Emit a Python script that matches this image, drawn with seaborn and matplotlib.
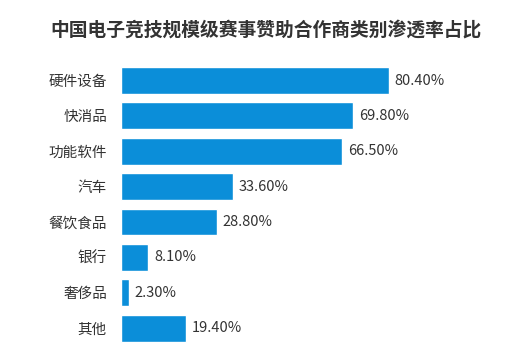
import matplotlib
matplotlib.use("Agg")
import matplotlib.pyplot as plt
import seaborn as sns
import pandas as pd

# Data
categories = ["硬件设备", "快消品", "功能软件", "汽车", "餐饮食品", "银行", "奢侈品", "其他"]
values = [80.4, 69.8, 66.5, 33.6, 28.8, 8.1, 2.3, 19.4]
value_labels = ["80.40%", "69.80%", "66.50%", "33.60%", "28.80%", "8.10%", "2.30%", "19.40%"]

df = pd.DataFrame({"category": categories, "value": values})

sns.set_theme(style="white")
plt.rcParams["font.family"] = ["Noto Sans CJK SC", "DejaVu Sans"]

fig = plt.figure(figsize=(5.32, 3.55), dpi=100)
ax = fig.add_axes([121 / 532, 0.026, 333 / 532, 0.797])

sns.barplot(data=df, x="value", y="category", color="#0b8ed9", saturation=1,
            width=0.76, ax=ax)

for i, (v, lab) in enumerate(zip(values, value_labels)):
    ax.text(v + 1.8, i, lab, va="center", ha="left", fontsize=10.5, color="#333333")

ax.set_xlim(0, 100)
ax.set_ylim(7.5, -0.5)
ax.set_xlabel("")
ax.set_ylabel("")
ax.set_xticks([])
ax.tick_params(axis="y", length=0, pad=10, labelsize=10.5, labelcolor="#333333")
sns.despine(ax=ax, left=True, bottom=True)

fig.text(0.5, 0.915, "中国电子竞技规模级赛事赞助合作商类别渗透率占比",
         ha="center", va="center", fontsize=13.5, fontweight="bold", color="#333333")

fig.savefig("out.png", dpi=100)
